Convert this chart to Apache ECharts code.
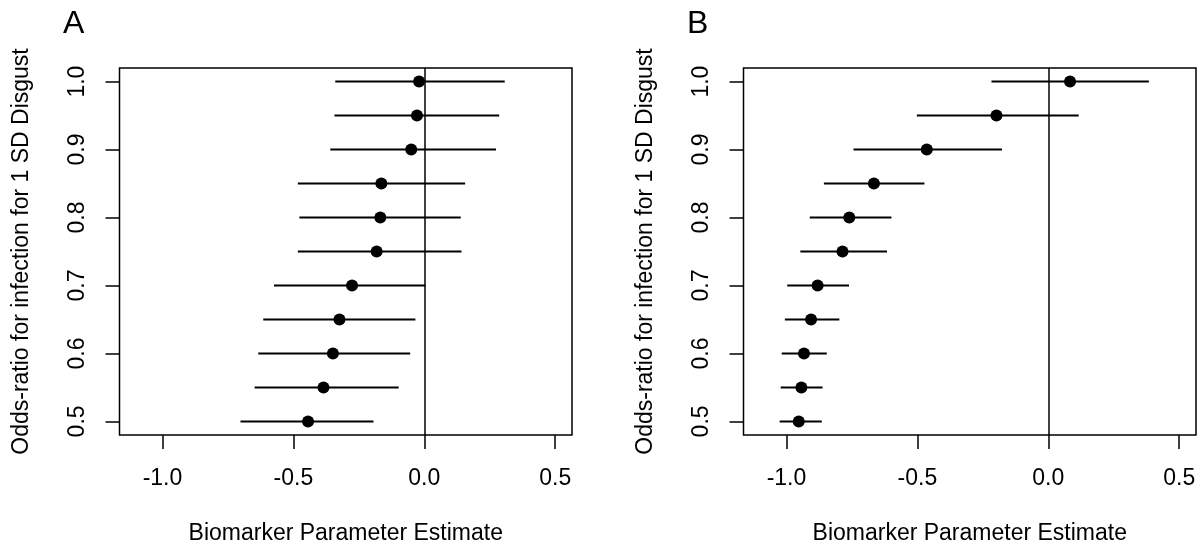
<!DOCTYPE html>
<html>
<head>
<meta charset="utf-8">
<script src="https://cdn.jsdelivr.net/npm/echarts@6/dist/echarts.min.js"></script>
<style>
html,body{margin:0;padding:0;background:#fff;}
#chart{width:1201px;height:550px;}
</style>
</head>
<body>
<div id="chart"></div>
<script>
// Odds-ratio levels (y)
var oddsRatios = [1.0, 0.95, 0.9, 0.85, 0.8, 0.75, 0.7, 0.65, 0.6, 0.55, 0.5];
// Panel A
var estA  = [-0.020, -0.028, -0.050, -0.164, -0.168, -0.182, -0.276, -0.324, -0.349, -0.385, -0.444];
var lowA  = [-0.340, -0.343, -0.359, -0.483, -0.477, -0.483, -0.574, -0.615, -0.634, -0.648, -0.702];
var highA = [ 0.307,  0.286,  0.274,  0.156,  0.139,  0.142,  0.004, -0.034, -0.054, -0.098, -0.194];
// Panel B
var estB  = [ 0.083, -0.198, -0.464, -0.666, -0.760, -0.786, -0.881, -0.906, -0.933, -0.943, -0.953];
var lowB  = [-0.217, -0.502, -0.744, -0.857, -0.911, -0.947, -0.997, -1.006, -1.018, -1.022, -1.026];
var highB = [ 0.384,  0.116, -0.177, -0.473, -0.599, -0.616, -0.761, -0.798, -0.846, -0.862, -0.865];
// Tick labels
var xTicks = [-1.0, -0.5, 0.0, 0.5];
var yTicks = [0.5, 0.6, 0.7, 0.8, 0.9, 1.0];
var panelLabels = ['A', 'B'];
var xTitle = 'Biomarker Parameter Estimate';
var yTitle = 'Odds-ratio for infection for 1 SD Disgust';

var FONT = '"Liberation Sans", Arial, sans-serif';
var FS = 23;
var chart = echarts.init(document.getElementById('chart'), null, {renderer: 'canvas'});

function fmt(v) { return (Math.abs(v) < 1e-9 ? 0 : v).toFixed(1); }

var grids = [
  {left: 119.5, top: 68, width: 452.5, height: 370},
  {left: 743.5, top: 68, width: 452.5, height: 370}
];

function xAxisFor(i) {
  return {
    type: 'value', gridIndex: i, min: -1.164, max: 0.564,
    axisLine: {show: false, onZero: false},
    splitLine: {show: false},
    axisTick: {show: true, customValues: xTicks, length: 14, inside: false,
               lineStyle: {color: '#000', width: 1.5}},
    axisLabel: {show: true, customValues: xTicks, formatter: fmt, margin: 32,
                fontFamily: FONT, fontSize: FS, color: '#000'},
    name: xTitle, nameLocation: 'middle', nameGap: 87,
    nameTextStyle: {fontFamily: FONT, fontSize: FS, color: '#000'}
  };
}
function yAxisFor(i) {
  return {
    type: 'value', gridIndex: i, min: 0.48, max: 1.02,
    axisLine: {show: false, onZero: false},
    splitLine: {show: false},
    axisTick: {show: true, customValues: yTicks, length: 14, inside: false,
               lineStyle: {color: '#000', width: 1.5}},
    axisLabel: {show: true, customValues: yTicks, formatter: fmt, margin: 30, rotate: 90,
                fontFamily: FONT, fontSize: FS, color: '#000'},
    name: yTitle, nameLocation: 'middle', nameGap: 86,
    nameTextStyle: {fontFamily: FONT, fontSize: FS, color: '#000'}
  };
}

function ciSeries(i, lo, hi) {
  var data = oddsRatios.map(function (y, k) { return [lo[k], hi[k], y]; });
  return {
    type: 'custom', xAxisIndex: i, yAxisIndex: i, silent: true,
    encode: {x: [0, 1], y: 2},
    data: data,
    renderItem: function (params, api) {
      var p1 = api.coord([api.value(0), api.value(2)]);
      var p2 = api.coord([api.value(1), api.value(2)]);
      return {type: 'line', shape: {x1: p1[0], y1: p1[1], x2: p2[0], y2: p2[1]},
              style: {stroke: '#000', lineWidth: 2}};
    },
    z: 2
  };
}
function ptSeries(i, est) {
  return {
    type: 'scatter', xAxisIndex: i, yAxisIndex: i, silent: true,
    data: oddsRatios.map(function (y, k) { return [est[k], y]; }),
    symbol: 'circle', symbolSize: 12,
    itemStyle: {color: '#000', opacity: 1},
    z: 3,
    markLine: {
      silent: true, symbol: ['none', 'none'], label: {show: false},
      lineStyle: {color: '#000', width: 1.5, type: 'solid', opacity: 1},
      emphasis: {disabled: true},
      data: [{xAxis: 0}], animation: false
    }
  };
}

chart.setOption({
  animation: false,
  backgroundColor: '#fff',
  grid: grids.map(function (g) {
    return Object.assign({show: true, borderColor: '#000', borderWidth: 1.5,
                          backgroundColor: 'transparent', containLabel: false}, g);
  }),
  xAxis: [xAxisFor(0), xAxisFor(1)],
  yAxis: [yAxisFor(0), yAxisFor(1)],
  graphic: [
    {type: 'text', left: 63, top: 8, style: {text: panelLabels[0], font: '32px ' + FONT, fill: '#000'}},
    {type: 'text', left: 687, top: 8, style: {text: panelLabels[1], font: '32px ' + FONT, fill: '#000'}}
  ],
  series: [
    ciSeries(0, lowA, highA), ptSeries(0, estA),
    ciSeries(1, lowB, highB), ptSeries(1, estB)
  ]
});
</script>
</body>
</html>
